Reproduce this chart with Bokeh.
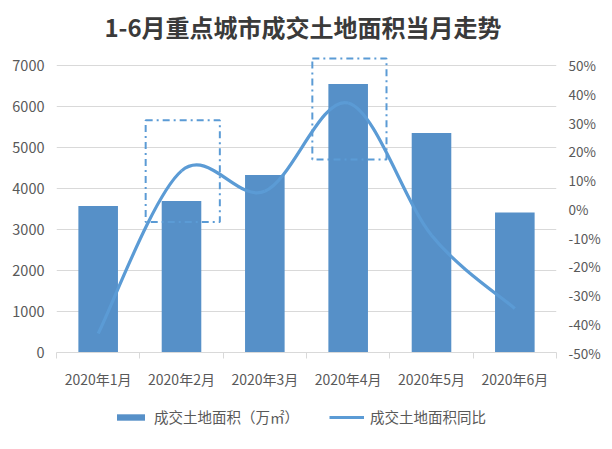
from bokeh.plotting import figure
from bokeh.layouts import column
from bokeh.core.properties import value
from bokeh.models import (Range1d, LinearAxis, FixedTicker, PrintfTickFormatter,
                          ColumnDataSource, Legend, LegendItem)
from bokeh.embed import file_html
from bokeh.resources import INLINE

# ---- data ----
title = "1-6月重点城市成交土地面积当月走势"
months = ["2020年1月", "2020年2月", "2020年3月", "2020年4月", "2020年5月", "2020年6月"]
area = [3570, 3690, 4325, 6540, 5350, 3410]          # 成交土地面积（万㎡）
yoy = [-43.4, 13.2, 6.1, 36.8, -9.2, -34.7]           # 成交土地面积同比 (%)
left_ticks = [0, 1000, 2000, 3000, 4000, 5000, 6000, 7000]
right_ticks = [-50, -40, -30, -20, -10, 0, 10, 20, 30, 40, 50]
series_names = ["成交土地面积（万㎡）", "成交土地面积同比"]
# highlighted months (dash-dot boxes): month index, pct range
hl_month = [1, 3]
hl_low = [-4.6, 17.2]
hl_high = [30.8, 52.3]

FONT = "Noto Sans CJK SC"
GRAY = "#595959"
GRID = "#D9D9D9"
BAR = "#5690C8"
LINE = "#5B9BD5"
NAN = float("nan")

# ---- title strip ----
tf = figure(width=596, height=52, output_backend="svg", toolbar_location=None,
            x_range=Range1d(0, 1), y_range=Range1d(0, 52),
            x_axis_location=None, y_axis_location=None, min_border=0)
tf.title_location = None
tf.outline_line_color = None
tf.xgrid.grid_line_color = None
tf.ygrid.grid_line_color = None
tf.text(x=[0.5], y=[26], text=[title], text_font=value(FONT), text_font_size="24px",
        text_font_style="bold", text_color="#3A3A3A", text_align="center",
        text_baseline="middle")

# ---- main chart ----
p = figure(frame_width=500, frame_height=300, output_backend="svg", toolbar_location=None,
           x_range=Range1d(-0.5, 5.5), y_range=Range1d(0, 7310),
           min_border_left=56, min_border_right=40, min_border_top=0,
           min_border_bottom=0)
p.title_location = None
p.extra_y_ranges = {"pct": Range1d(-50, 54.4)}
p.outline_line_color = None
p.background_fill_color = "white"
p.border_fill_color = "white"

idx = list(range(len(months)))
src = ColumnDataSource(dict(x=idx, area=area, yoy=yoy))
bars = p.vbar(x="x", top="area", width=0.475, source=src, color=BAR, line_color=None)

# smoothed line (Excel-style Catmull-Rom bezier through the data points)
n = len(yoy)
x0, y0, x1, y1, cx0, cy0, cx1, cy1 = [], [], [], [], [], [], [], []
for i in range(n - 1):
    pm = i - 1 if i > 0 else i
    pp = i + 2 if i + 2 < n else i + 1
    x0.append(idx[i]); y0.append(yoy[i])
    x1.append(idx[i + 1]); y1.append(yoy[i + 1])
    cx0.append(idx[i] + (idx[i + 1] - idx[pm]) / 6.0)
    cy0.append(yoy[i] + (yoy[i + 1] - yoy[pm]) / 6.0)
    cx1.append(idx[i + 1] - (idx[pp] - idx[i]) / 6.0)
    cy1.append(yoy[i + 1] - (yoy[pp] - yoy[i]) / 6.0)
p.bezier(x0=x0, y0=y0, x1=x1, y1=y1, cx0=cx0, cy0=cy0, cx1=cx1, cy1=cy1,
         y_range_name="pct", line_color=LINE, line_width=3.2)

# dash-dot highlight boxes
p.quad(left=[m - 0.43 for m in hl_month], right=[m + 0.46 for m in hl_month],
       bottom=hl_low, top=hl_high, y_range_name="pct",
       fill_alpha=0, line_color=LINE, line_width=2, line_dash="7 4 2 4")

# axes
p.xaxis.ticker = FixedTicker(ticks=idx, minor_ticks=[i - 0.5 for i in range(n + 1)])
p.xaxis.major_label_overrides = {i: m for i, m in enumerate(months)}
p.xaxis.major_tick_out = 0
p.xaxis.major_tick_in = 0
p.xaxis.minor_tick_out = 6
p.xaxis.minor_tick_in = 0
p.xaxis.minor_tick_line_color = GRID
p.xaxis.axis_line_color = GRID
p.xaxis.major_label_standoff = 10
p.xaxis.major_label_text_font = FONT
p.xaxis.major_label_text_font_size = "14px"
p.xaxis.major_label_text_color = GRAY

p.yaxis.ticker = FixedTicker(ticks=left_ticks)
p.yaxis.axis_line_color = None
p.yaxis.major_tick_line_color = None
p.yaxis.minor_tick_line_color = None
p.yaxis.major_label_standoff = 6
p.yaxis.major_label_text_font = FONT
p.yaxis.major_label_text_font_size = "14.5px"
p.yaxis.major_label_text_color = GRAY

ra = LinearAxis(y_range_name="pct", ticker=FixedTicker(ticks=right_ticks),
                formatter=PrintfTickFormatter(format="%d%%"))
ra.axis_line_color = None
ra.major_tick_line_color = None
ra.minor_tick_line_color = None
ra.major_label_standoff = 6
ra.major_label_text_font = FONT
ra.major_label_text_font_size = "13.5px"
ra.major_label_text_color = GRAY
p.add_layout(ra, "right")

p.xgrid.grid_line_color = None
p.ygrid.ticker = FixedTicker(ticks=left_ticks)
p.ygrid.grid_line_color = GRID
p.ygrid.grid_line_width = 1

# ---- legend strip (separate small figure below the chart) ----
lg = figure(width=596, height=58, output_backend="svg", toolbar_location=None,
            x_range=Range1d(0, 1), y_range=Range1d(0, 1),
            x_axis_location=None, y_axis_location=None,
            min_border=0)
lg.outline_line_color = None
lg.xgrid.grid_line_color = None
lg.ygrid.grid_line_color = None
# swatch-only renderers (NaN data draws nothing in the strip itself)
lg_bar = lg.vbar(x=[NAN], top=[NAN], width=0.5, color=BAR, line_color=None)
lg_line = lg.line(x=[NAN, NAN], y=[NAN, NAN], line_color=LINE, line_width=3.2)
legend = Legend(items=[LegendItem(label=series_names[0], renderers=[lg_bar]),
                       LegendItem(label=series_names[1], renderers=[lg_line])],
                orientation="horizontal", location=(57, 22))
legend.glyph_width = 35
legend.glyph_height = 8
legend.label_standoff = 6
legend.spacing = 30
legend.label_text_font = FONT
legend.label_text_font_size = "14.5px"
legend.label_text_color = GRAY
legend.border_line_color = None
legend.background_fill_alpha = 0
legend.margin = 0
legend.padding = 2
lg.add_layout(legend)

layout = column(tf, p, lg, spacing=0)
open("out.html", "w").write(file_html(layout, INLINE))
